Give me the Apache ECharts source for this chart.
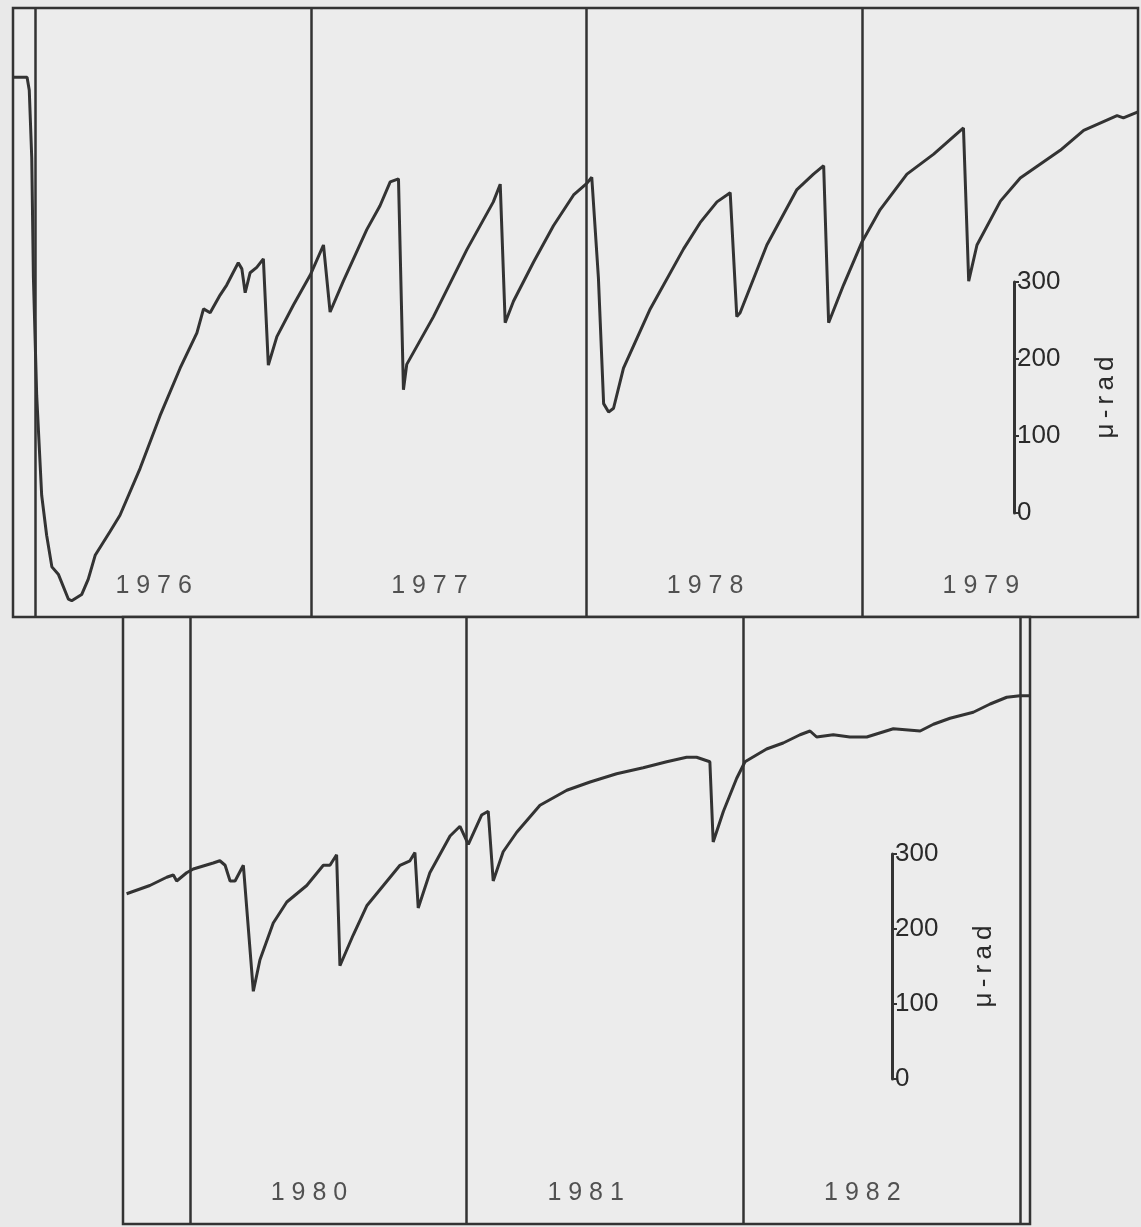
<!DOCTYPE html>
<html><head><meta charset="utf-8">
<script src="https://cdn.jsdelivr.net/npm/echarts/dist/echarts.min.js"></script>
<style>html,body{margin:0;padding:0;background:#e9e9e9}#c{width:1141px;height:1227px}</style>
</head><body><div id="c"></div>
<script>
// ---- data (decimal year, micro-radians) ----
const topYears = [1975.920,1975.971,1975.979,1975.988,1975.994,1976.006,1976.024,1976.042,1976.061,1976.085,1976.121,1976.133,1976.169,1976.193,1976.218,1976.272,1976.308,1976.381,1976.453,1976.526,1976.587,1976.611,1976.635,1976.671,1976.695,1976.718,1976.737,1976.750,1976.762,1976.780,1976.804,1976.828,1976.846,1976.877,1976.937,1976.998,1977.046,1977.070,1977.118,1977.203,1977.251,1977.288,1977.318,1977.336,1977.348,1977.445,1977.566,1977.662,1977.687,1977.705,1977.735,1977.808,1977.880,1977.953,1978.001,1978.019,1978.043,1978.062,1978.080,1978.098,1978.134,1978.231,1978.352,1978.412,1978.473,1978.521,1978.545,1978.557,1978.654,1978.763,1978.823,1978.860,1978.878,1978.932,1978.999,1979.065,1979.162,1979.259,1979.367,1979.386,1979.416,1979.501,1979.573,1979.718,1979.803,1979.924,1979.947,1980.000];
const topValues = [566,566,549,461,306,152,23,-29,-70,-80,-112,-114,-106,-86,-55,-24,-3,58,126,188,234,265,260,283,296,312,325,317,286,312,319,330,192,229,270,309,348,261,301,368,399,430,434,160,193,255,342,404,427,247,275,326,373,413,428,436,306,142,131,136,188,265,343,377,404,416,255,260,348,420,440,451,247,296,352,394,440,466,500,301,348,405,435,471,497,516,513,521];

const bottomYears = [1979.771,1979.855,1979.916,1979.940,1979.952,1979.988,1980.012,1980.084,1980.108,1980.127,1980.145,1980.163,1980.193,1980.229,1980.253,1980.301,1980.350,1980.422,1980.482,1980.506,1980.530,1980.542,1980.590,1980.639,1980.699,1980.759,1980.795,1980.813,1980.825,1980.867,1980.940,1980.976,1981.006,1981.054,1981.078,1981.096,1981.132,1981.181,1981.265,1981.362,1981.446,1981.542,1981.638,1981.723,1981.795,1981.831,1981.879,1981.891,1981.928,1981.976,1982.006,1982.084,1982.144,1982.205,1982.241,1982.265,1982.325,1982.385,1982.446,1982.542,1982.639,1982.687,1982.747,1982.831,1982.892,1982.952,1983.000,1983.036];
const bottomValues = [247,258,269,272,264,275,280,288,291,285,264,264,285,117,159,208,236,258,285,285,299,151,192,231,258,285,291,302,228,275,324,337,313,352,357,264,303,329,365,385,396,407,415,423,429,429,423,316,357,401,423,440,448,459,464,456,459,456,456,467,464,473,481,489,500,509,511,511];

const topYearLabels = [1976, 1977, 1978, 1979];
const bottomYearLabels = [1980, 1981, 1982];
const topBoundaries = [1976, 1977, 1978, 1979];
const bottomBoundaries = [1980, 1981, 1982, 1983];
const scaleTicks = [0, 100, 200, 300];
const unitName = 'μ-rad';

// ---- styling / layout ----
const INK = '#333333';
const TXT = '#2a2a2a';
const FONT = 'Liberation Sans';
const TOP = {xmin: 1975.92, xmax: 1980.0, ymin: -135.1, ymax: 655.8};
const BOT = {xmin: 1979.758, xmax: 1983.036, ymin: -193.3, ymax: 616};

function zip(a, b) { return a.map((v, i) => [v, b[i]]); }
function spaced(y) { return String(y).split('').join(' '); }

function curve(idx, xs, ys, bounds) {
  return {
    type: 'line', xAxisIndex: idx, yAxisIndex: idx, data: zip(xs, ys),
    symbol: 'none', lineStyle: {color: INK, width: 3}, z: 5,
    markLine: {silent: true, symbol: ['none', 'none'], label: {show: false},
      lineStyle: {type: 'solid', color: INK, width: 2.5},
      data: bounds.map(b => ({xAxis: b}))}
  };
}
function labels(idx, years, ymin) {
  return {
    type: 'scatter', xAxisIndex: idx, yAxisIndex: idx, clip: false,
    data: years.map(y => [y + 0.43, ymin, y]),
    symbolSize: 1, itemStyle: {color: 'rgba(0,0,0,0)'},
    label: {show: true, position: 'inside', offset: [0, -31],
      formatter: p => spaced(p.data[2]), color: TXT, fontSize: 25, fontFamily: FONT}
  };
}
function scaleAxis(gi) {
  return {gridIndex: gi, type: 'value', position: 'right', min: 0, max: 300, interval: 100,
    axisLine: {show: true, lineStyle: {color: INK, width: 3}},
    axisTick: {show: true, length: 5, lineStyle: {color: INK, width: 2}},
    axisLabel: {show: true, margin: 2, color: TXT, fontSize: 26, fontFamily: FONT,
      formatter: v => scaleTicks.indexOf(v) >= 0 ? String(v) : ''},
    splitLine: {show: false},
    name: unitName.split('').join('\u2009'), nameLocation: 'middle', nameRotate: 90, nameGap: 78,
    nameTextStyle: {color: TXT, fontSize: 26, fontFamily: FONT}
  };
}

const chart = echarts.init(document.getElementById('c'), null, {renderer: 'canvas'});
chart.setOption({
  animation: false,
  backgroundColor: '#e9e9e9',
  grid: [
    {left: 13, top: 8, width: 1125, height: 609, show: true, borderColor: INK, borderWidth: 2.5, backgroundColor: '#ececec'},
    {left: 123, top: 617, width: 907, height: 607, show: true, borderColor: INK, borderWidth: 2.5, backgroundColor: '#ececec'},
    {left: 1014, top: 282, width: 1, height: 231},
    {left: 892, top: 854, width: 1, height: 225}
  ],
  xAxis: [
    {gridIndex: 0, type: 'value', min: TOP.xmin, max: TOP.xmax, show: false},
    {gridIndex: 1, type: 'value', min: BOT.xmin, max: BOT.xmax, show: false},
    {gridIndex: 2, type: 'value', min: 0, max: 1, show: false},
    {gridIndex: 3, type: 'value', min: 0, max: 1, show: false}
  ],
  yAxis: [
    {gridIndex: 0, type: 'value', min: TOP.ymin, max: TOP.ymax, show: false},
    {gridIndex: 1, type: 'value', min: BOT.ymin, max: BOT.ymax, show: false},
    scaleAxis(2),
    scaleAxis(3)
  ],
  series: [
    curve(0, topYears, topValues, topBoundaries),
    curve(1, bottomYears, bottomValues, bottomBoundaries),
    labels(0, topYearLabels, TOP.ymin),
    labels(1, bottomYearLabels, BOT.ymin)
  ]
});
</script></body></html>
